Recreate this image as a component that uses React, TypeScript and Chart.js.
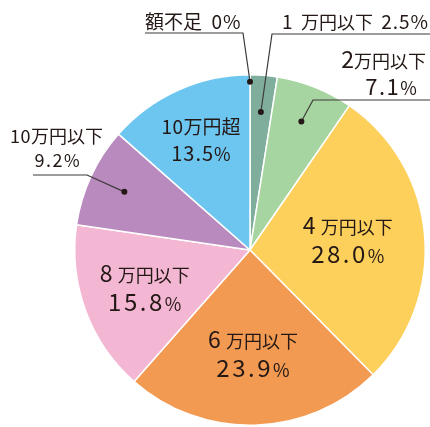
import React, { useEffect, useRef } from "react";
import { Chart, registerables } from "chart.js";

Chart.register(...registerables);

const categories = ["額不足", "1万円以下", "2万円以下", "4万円以下", "6万円以下", "8万円以下", "10万円以下", "10万円超"];
const values = [0, 2.5, 7.1, 28.0, 23.9, 15.8, 9.2, 13.5];
const colors = ["#7fae9d", "#7fae9d", "#a6d5a1", "#fdd05c", "#f29a51", "#f4b7d3", "#b98abd", "#6cc6f0"];

const FONT = "'Noto Sans CJK JP', 'Noto Sans', sans-serif";
const TEXT = "#231815";
const LINE = "#3e3a39";

type Run = { t: string; size: number; ls?: number };

function pctText(v: number) {
  return v === 0 ? "0%" : v.toFixed(1) + "%";
}

function splitCat(c: string): [string, string] {
  const m = c.match(/^(\d+)(.*)$/);
  return m ? [m[1], m[2]] : ["", c];
}

function pctRuns(v: number, numSize: number, pSize: number, ls: number): Run[] {
  const s = pctText(v);
  return [
    { t: s.slice(0, -1), size: numSize, ls },
    { t: "%", size: pSize, ls: 0 },
  ];
}

function drawRuns(ctx: CanvasRenderingContext2D, runs: Run[], x: number, y: number, align: "left" | "center" | "right") {
  const widths = runs.map((r) => {
    ctx.font = `400 ${r.size}px ${FONT}`;
    (ctx as any).letterSpacing = `${r.ls || 0}px`;
    return ctx.measureText(r.t).width;
  });
  const total = widths.reduce((a, b) => a + b, 0);
  let cx = align === "center" ? x - total / 2 : align === "right" ? x - total : x;
  ctx.textAlign = "left";
  ctx.textBaseline = "alphabetic";
  ctx.fillStyle = TEXT;
  runs.forEach((r, i) => {
    ctx.font = `400 ${r.size}px ${FONT}`;
    (ctx as any).letterSpacing = `${r.ls || 0}px`;
    ctx.fillText(r.t, cx, y);
    cx += widths[i];
  });
  (ctx as any).letterSpacing = "0px";
}

// layout for labels inside the slices (radius fraction along the mid angle)
const insideLabels: Record<number, number> = { 3: 0.56, 4: 0.6, 5: 0.64, 7: 0.68 };

const labelPlugin = {
  id: "pieLabels",
  afterDatasetsDraw(chart: any) {
    const ctx: CanvasRenderingContext2D = chart.ctx;
    const meta = chart.getDatasetMeta(0);
    ctx.save();
    meta.data.forEach((arc: any, i: number) => {
      const p = arc.getProps(["x", "y", "startAngle", "endAngle", "outerRadius"], true);
      const mid = (p.startAngle + p.endAngle) / 2;
      const at = (f: number) => ({ x: p.x + Math.cos(mid) * p.outerRadius * f, y: p.y + Math.sin(mid) * p.outerRadius * f });
      const [num, kan] = splitCat(categories[i]);
      const v = values[i];

      if (insideLabels[i] !== undefined) {
        const c = at(insideLabels[i]);
        if (i === 7) {
          drawRuns(ctx, [{ t: num, size: 19, ls: 0.5 }, { t: kan, size: 19 }], c.x, c.y - 7, "center");
          drawRuns(ctx, pctRuns(v, 20, 18, 1), c.x, c.y + 20, "center");
        } else {
          drawRuns(ctx, [{ t: num + " ", size: 23 }, { t: kan, size: 18 }], c.x, c.y - 7, "center");
          drawRuns(ctx, pctRuns(v, 24, 18, 2.5), c.x, c.y + 22, "center");
        }
        return;
      }

      // leader-line labels
      let dot, elbow: [number, number], lineTo: number;
      if (i === 0) {
        dot = at(0.96);
        elbow = [243, 33];
        lineTo = 145;
        drawRuns(ctx, [{ t: categories[i], size: 19 }, { t: "   ", size: 14 }, { t: pctText(v), size: 19, ls: 1 }], 145, 29, "left");
      } else if (i === 1) {
        dot = at(0.79);
        elbow = [272, 34];
        lineTo = 430;
        drawRuns(ctx, [{ t: num + "  ", size: 19 }, { t: kan, size: 18 }, { t: "   ", size: 12 }, { t: pctText(v), size: 19, ls: 1 }], 429, 29, "right");
      } else if (i === 2) {
        dot = at(0.79);
        elbow = [313, 100];
        lineTo = 430;
        drawRuns(ctx, [{ t: num, size: 23 }, { t: kan, size: 18 }], 426, 68, "right");
        drawRuns(ctx, pctRuns(v, 22, 18, 1.5), 391, 95, "center");
      } else {
        dot = at(0.79);
        elbow = [87, 175];
        lineTo = 33;
        drawRuns(ctx, [{ t: num, size: 18, ls: 0.5 }, { t: kan, size: 18 }], 10, 143, "left");
        drawRuns(ctx, pctRuns(v, 18, 17, 1.5), 57, 167, "center");
      }
      ctx.strokeStyle = LINE;
      ctx.lineWidth = 1.2;
      ctx.beginPath();
      ctx.moveTo(lineTo, elbow[1]);
      ctx.lineTo(elbow[0], elbow[1]);
      ctx.lineTo(dot.x, dot.y);
      ctx.stroke();
      ctx.fillStyle = "#231815";
      ctx.beginPath();
      ctx.arc(dot.x, dot.y, 3, 0, Math.PI * 2);
      ctx.fill();
    });
    ctx.restore();
  },
};

export default function App() {
  const ref = useRef<HTMLCanvasElement>(null);
  useEffect(() => {
    if (!ref.current) return;
    const chart = new Chart(ref.current, {
      type: "pie",
      data: {
        labels: categories,
        datasets: [
          {
            data: values,
            backgroundColor: colors,
            borderColor: "#ffffff",
            borderWidth: 1.5,
          },
        ],
      },
      options: {
        animation: false,
        responsive: true,
        maintainAspectRatio: false,
        layout: { padding: { left: 74, right: 4, top: 74, bottom: 1 } },
        plugins: { legend: { display: false }, tooltip: { enabled: false } },
      },
      plugins: [labelPlugin],
    });
    return () => chart.destroy();
  }, []);
  return (
    <div style={{ position: "fixed", left: 0, top: 0, width: 430, height: 427, background: "#fff" }}>
      <canvas ref={ref} />
    </div>
  );
}
